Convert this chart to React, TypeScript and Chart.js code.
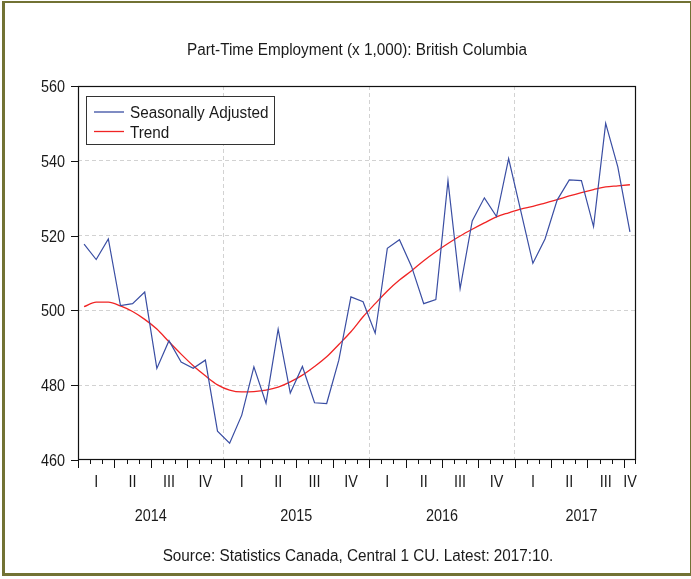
import React, { useEffect, useRef } from 'react';
import { Chart, registerables } from 'chart.js';

Chart.register(...registerables);

const TITLE = 'Part-Time Employment (x 1,000): British Columbia';
const SOURCE = 'Source: Statistics Canada, Central 1 CU. Latest: 2017:10.';

const years = ['2014', '2015', '2016', '2017'];
const quarterLabels = ['I', 'II', 'III', 'IV'];
const monthCount = 46; // Jan 2014 .. Oct 2017
const months = years
  .flatMap((y) => Array.from({ length: 12 }, (_, m) => `${y}:${String(m + 1).padStart(2, '0')}`))
  .slice(0, monthCount);

const seasonallyAdjusted = [
  517.7, 513.6, 519.1, 501.3, 501.8, 504.9, 484.5, 491.9, 486.2, 484.5, 486.7, 467.7,
  464.5, 472.0, 484.9, 475.2, 495.0, 477.9, 485.0, 475.3, 475.1, 486.7, 503.6, 502.3,
  493.9, 516.6, 518.9, 511.7, 501.8, 502.9, 534.7, 505.8, 523.9, 530.1, 525.1, 540.6,
  526.6, 512.6, 519.1, 529.5, 534.9, 534.7, 522.4, 550.0, 538.4, 521.0,
];

const trend = [
  501.0, 502.2, 502.2, 501.2, 499.7, 497.6, 495.0, 491.6, 488.3, 485.2, 482.5, 480.1,
  478.7, 478.2, 478.3, 478.7, 479.5, 480.9, 482.7, 485.0, 487.6, 490.9, 494.3, 498.3,
  501.8, 505.2, 508.1, 510.6, 513.3, 515.7, 517.9, 519.9, 521.7, 523.4, 525.0, 526.1,
  527.1, 527.8, 528.7, 529.6, 530.6, 531.5, 532.3, 533.0, 533.3, 533.6,
];

const yMin = 460;
const yMax = 560;
const yStep = 20;

const BLUE = '#3a4ea3';
const RED = '#f02424';
const GRID = '#d2d2d2';
const TEXT = '#1a1a1a';
const FRAME = '#727234';
const FONT = '"Liberation Sans", Arial, Helvetica, sans-serif';
const SX = 0.955;
const FS = 16;

function drawText(ctx: CanvasRenderingContext2D, s: string, x: number, y: number, align: 'left' | 'center' | 'right', size = FS, sx = SX) {
  ctx.save();
  ctx.font = `${size}px ${FONT}`;
  ctx.textBaseline = 'alphabetic';
  ctx.textAlign = 'left';
  ctx.fillStyle = TEXT;
  const w = ctx.measureText(s).width * sx;
  const x0 = align === 'center' ? x - w / 2 : align === 'right' ? x - w : x;
  ctx.translate(x0, y);
  ctx.scale(sx, 1);
  ctx.fillText(s, 0, 0);
  ctx.restore();
}

const decorPlugin = {
  id: 'decor',
  beforeDraw(chart: any) {
    const ctx: CanvasRenderingContext2D = chart.ctx;
    ctx.save();
    ctx.fillStyle = '#ffffff';
    ctx.fillRect(0, 0, chart.width, chart.height);
    ctx.fillStyle = FRAME;
    ctx.fillRect(2, 1, 3, 575); // left
    ctx.fillRect(2, 1, 689, 2); // top
    ctx.fillRect(690, 1, 1, 575); // right
    ctx.fillRect(2, 573, 689, 3); // bottom
    ctx.restore();
  },
  afterDraw(chart: any) {
    const ctx: CanvasRenderingContext2D = chart.ctx;
    const { left, right, top, bottom } = chart.chartArea;
    const xs = chart.scales.x;
    const ys = chart.scales.y;
    ctx.save();
    ctx.strokeStyle = '#111';
    ctx.lineWidth = 1.2;
    ctx.strokeRect(left + 0.5, top + 0.5, right - left - 1, bottom - top - 1);

    // x ticks at month boundaries
    ctx.lineWidth = 1;
    ctx.beginPath();
    for (let k = 0; k <= monthCount; k++) {
      const bx = Math.round(xs.getPixelForValue(k - 0.5)) + 0.5;
      const len = k % 3 === 0 ? 8 : 4;
      ctx.moveTo(Math.min(bx, right - 0.5), bottom);
      ctx.lineTo(Math.min(bx, right - 0.5), bottom + len);
    }
    // y ticks
    ys.ticks.forEach((t: any) => {
      const py = Math.round(ys.getPixelForValue(t.value)) + 0.5;
      ctx.moveTo(left - 7, py);
      ctx.lineTo(left, py);
    });
    ctx.stroke();
    ctx.restore();

    // y labels
    ys.ticks.forEach((t: any) => {
      const py = ys.getPixelForValue(t.value);
      drawText(ctx, String(t.value), left - 13, py + 6, 'right', FS, 0.9);
    });

    // quarter & year labels
    const qCenters: number[] = [];
    for (let q = 0; q * 3 < monthCount; q++) {
      const s = q * 3;
      const e = Math.min(q * 3 + 2, monthCount - 1);
      const cx = (xs.getPixelForValue(s) + xs.getPixelForValue(e)) / 2;
      qCenters.push(cx);
      drawText(ctx, quarterLabels[q % 4], cx, bottom + 27, 'center', FS, 0.9);
    }
    years.forEach((yr, i) => {
      const qs = qCenters.slice(i * 4, i * 4 + 4);
      if (!qs.length) return;
      const cx = (qs[0] + qs[qs.length - 1]) / 2;
      drawText(ctx, yr, cx, bottom + 61, 'center', FS, 0.9);
    });

    // title & source
    const cxAll = (left + right) / 2;
    drawText(ctx, TITLE, cxAll, top - 31, 'center');
    drawText(ctx, SOURCE, cxAll + 1, bottom + 101, 'center');

    // legend
    ctx.save();
    ctx.fillStyle = '#fff';
    ctx.fillRect(left + 8, top + 10, 188, 48);
    ctx.strokeStyle = '#333';
    ctx.lineWidth = 1;
    ctx.strokeRect(left + 8.5, top + 10.5, 188, 48);
    const ds = chart.data.datasets;
    const rows = [top + 26, top + 45.5];
    ds.forEach((d: any, i: number) => {
      ctx.strokeStyle = d.borderColor;
      ctx.lineWidth = 1.3;
      ctx.beginPath();
      ctx.moveTo(left + 16, rows[i]);
      ctx.lineTo(left + 46, rows[i]);
      ctx.stroke();
    });
    ctx.restore();
    ds.forEach((d: any, i: number) => {
      drawText(ctx, d.label, left + 52, rows[i] + 6, 'left');
    });
  },
};

export default function App() {
  const ref = useRef<HTMLCanvasElement>(null);
  useEffect(() => {
    document.body.style.margin = '0';
    const canvas = ref.current!;
    const chart = new Chart(canvas, {
      type: 'line',
      data: {
        labels: months,
        datasets: [
          {
            label: 'Seasonally Adjusted',
            data: seasonallyAdjusted,
            borderColor: BLUE,
            borderWidth: 1.2,
            pointRadius: 0,
            tension: 0,
            fill: false,
          },
          {
            label: 'Trend',
            data: trend,
            borderColor: RED,
            borderWidth: 1.3,
            pointRadius: 0,
            cubicInterpolationMode: 'monotone',
            fill: false,
          },
        ],
      },
      options: {
        responsive: false,
        animation: false,
        devicePixelRatio: 1,
        layout: { padding: { top: 86, right: 55, left: 0, bottom: 0 } },
        plugins: { legend: { display: false }, tooltip: { enabled: false }, title: { display: false } },
        scales: {
          x: {
            type: 'category',
            offset: true,
            grid: {
              offset: true,
              drawTicks: false,
              lineWidth: 1,
              color: (c: any) => (c.index % 12 === 0 && c.index > 0 && c.index < monthCount ? GRID : 'rgba(0,0,0,0)'),
            },
            border: { display: false, dash: [4, 3] },
            ticks: { display: false },
            afterFit: (s: any) => {
              s.height = 119;
            },
          },
          y: {
            min: yMin,
            max: yMax,
            ticks: { stepSize: yStep, display: false },
            grid: {
              drawTicks: false,
              lineWidth: 1,
              color: (c: any) => (c.tick && (c.tick.value === yMin || c.tick.value === yMax) ? 'rgba(0,0,0,0)' : GRID),
            },
            border: { display: false, dash: [4, 3] },
            afterFit: (s: any) => {
              s.width = 78;
            },
          },
        },
      },
      plugins: [decorPlugin],
    });
    return () => chart.destroy();
  }, []);
  return (
    <div style={{ width: 691, height: 579 }}>
      <canvas ref={ref} width={691} height={579} style={{ display: 'block' }} />
    </div>
  );
}
